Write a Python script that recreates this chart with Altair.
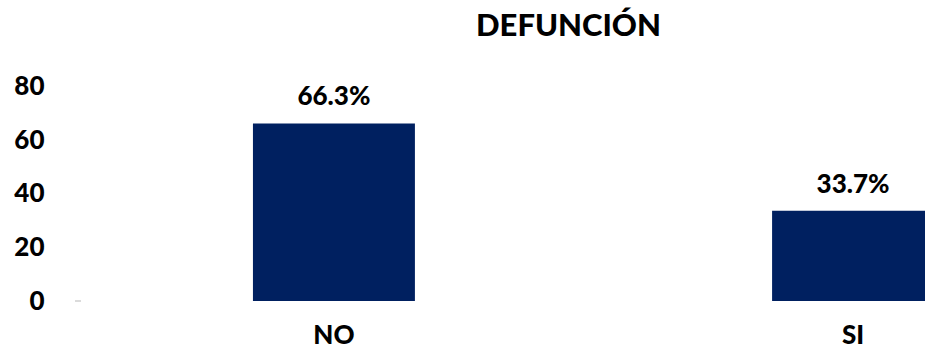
import altair as alt
import pandas as pd

categories = ["NO", "SI"]
values = [66.3, 33.7]
labels = ["66.3%", "33.7%"]

df = pd.DataFrame({"cat": categories, "val": values, "lab": labels})
FONT = "Lato"
W = 900

xscale = alt.Scale(range=[0, 1031], paddingInner=0.688, paddingOuter=0.337)
yscale = alt.Scale(domain=[0, 90], nice=False)

base = alt.Chart(df).encode(
    x=alt.X("cat:N", scale=xscale, sort=categories,
            axis=alt.Axis(title=None, labelAngle=0, domain=False, ticks=False,
                          labelFont=FONT, labelFontSize=26, labelFontWeight=W,
                          labelColor="#000000", labelPadding=21)),
)

bars = base.mark_bar(color="#002060").encode(
    y=alt.Y("val:Q", scale=yscale,
            axis=alt.Axis(title=None, values=[0, 20, 40, 60, 80], domain=False,
                          ticks=False, grid=False, labelFont=FONT, labelFontSize=26,
                          labelFontWeight=W, labelColor="#000000",
                          labelPadding=34)),
)

text = base.mark_text(baseline="bottom", dy=-13, font=FONT, fontSize=26,
                      fontWeight=W, color="#000000").encode(
    y=alt.Y("val:Q", scale=yscale), text="lab:N")

tick = alt.Chart(df).mark_rule(color="#d9d9d9", strokeWidth=1.5).encode(
    y=alt.Y(datum=0),
    x=alt.value(-3), x2=alt.value(3))

chart = alt.layer(bars, text, tick).properties(
    width=847, height=241,
    autosize=alt.AutoSizeParams(type="none"),
    padding={"left": 78, "top": 60, "right": 0, "bottom": 59},
    title=alt.Title("DEFUNCIÓN", font=FONT, fontSize=31, fontWeight=W,
                    color="#000000", anchor="middle", dx=67, offset=17),
).configure_view(stroke=None, clip=False)

chart.save("out.html", embed_options={"renderer": "svg", "actions": False})
